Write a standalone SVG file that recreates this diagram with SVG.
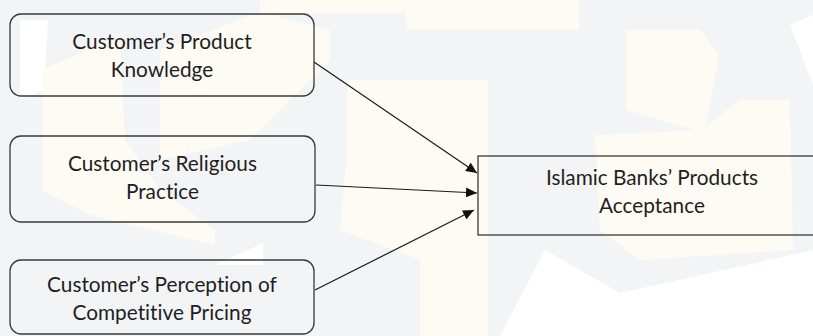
<svg xmlns="http://www.w3.org/2000/svg" width="813" height="336" viewBox="0 0 813 336">
<defs>
<style>
.bg-grey{fill:#f3f4f6}
.bg-cream{fill:#fdfbf3}
.node rect{fill:none;stroke:#3a3a3a;stroke-width:1.3}
.node text{font-family:Lato,"Open Sans",sans-serif;font-size:20.8px;fill:#1f1f1f;text-anchor:middle;font-variant-ligatures:none}
.edge{stroke:#1a1a1a;stroke-width:1.2;fill:none;marker-end:url(#arr)}
</style>
<marker id="arr" markerUnits="userSpaceOnUse" markerWidth="12" markerHeight="10" refX="11" refY="5" orient="auto">
<path d="M0,0 L11,5 L0,10 Z" fill="#111"/>
</marker>
</defs>
<rect width="813" height="336" fill="#ffffff"/>
<g id="watermark">
<polygon class="bg-grey" points="0,0 813,0 813,250 620,293 545,250 500,336 0,336"/>
<polygon fill="#ffffff" points="20,20 48,20 44,90 20,100"/>
<polygon fill="#ffffff" points="790,25 813,15 813,85"/>
<polygon fill="#ffffff" points="215,265 263,243 263,265"/>
<polygon class="bg-cream" points="260,0 579,0 579,30 406,30 406,13 260,13"/>
<polygon class="bg-cream" points="42,70 120,35 125,140 160,190 215,230 215,245 90,215 42,190"/>
<polygon class="bg-cream" points="160,50 260,12 330,30 330,60 250,140 160,160"/>
<polygon class="bg-cream" points="347,80 488,80 488,336 420,336 420,260 340,230 347,150"/>
<polygon class="bg-cream" points="626,30 700,30 719,55 705,133 626,110"/>
<polygon class="bg-cream" points="595,135 700,130 740,100 790,100 793,250 640,260 600,230"/>
</g>
<g id="connectors">
<line class="edge" x1="314" y1="62" x2="477" y2="173"/>
<line class="edge" x1="316" y1="185" x2="477" y2="193"/>
<line class="edge" x1="315" y1="290" x2="474" y2="210"/>
</g>
<g id="node-knowledge" class="node">
<rect x="10" y="14" width="304" height="82" rx="11"/>
<text x="162" y="49">Customer’s Product</text>
<text x="162" y="77">Knowledge</text>
</g>
<g id="node-religious" class="node">
<rect x="10" y="136" width="305" height="86" rx="11"/>
<text x="162.5" y="171">Customer’s Religious</text>
<text x="162.5" y="199">Practice</text>
</g>
<g id="node-pricing" class="node">
<rect x="10" y="260" width="304" height="74" rx="11"/>
<text x="162" y="292">Customer’s Perception of</text>
<text x="162" y="320">Competitive Pricing</text>
</g>
<g id="node-acceptance" class="node">
<rect x="478" y="156" width="348" height="79"/>
<text x="652" y="185">Islamic Banks’ Products</text>
<text x="652" y="213">Acceptance</text>
</g>
</svg>
